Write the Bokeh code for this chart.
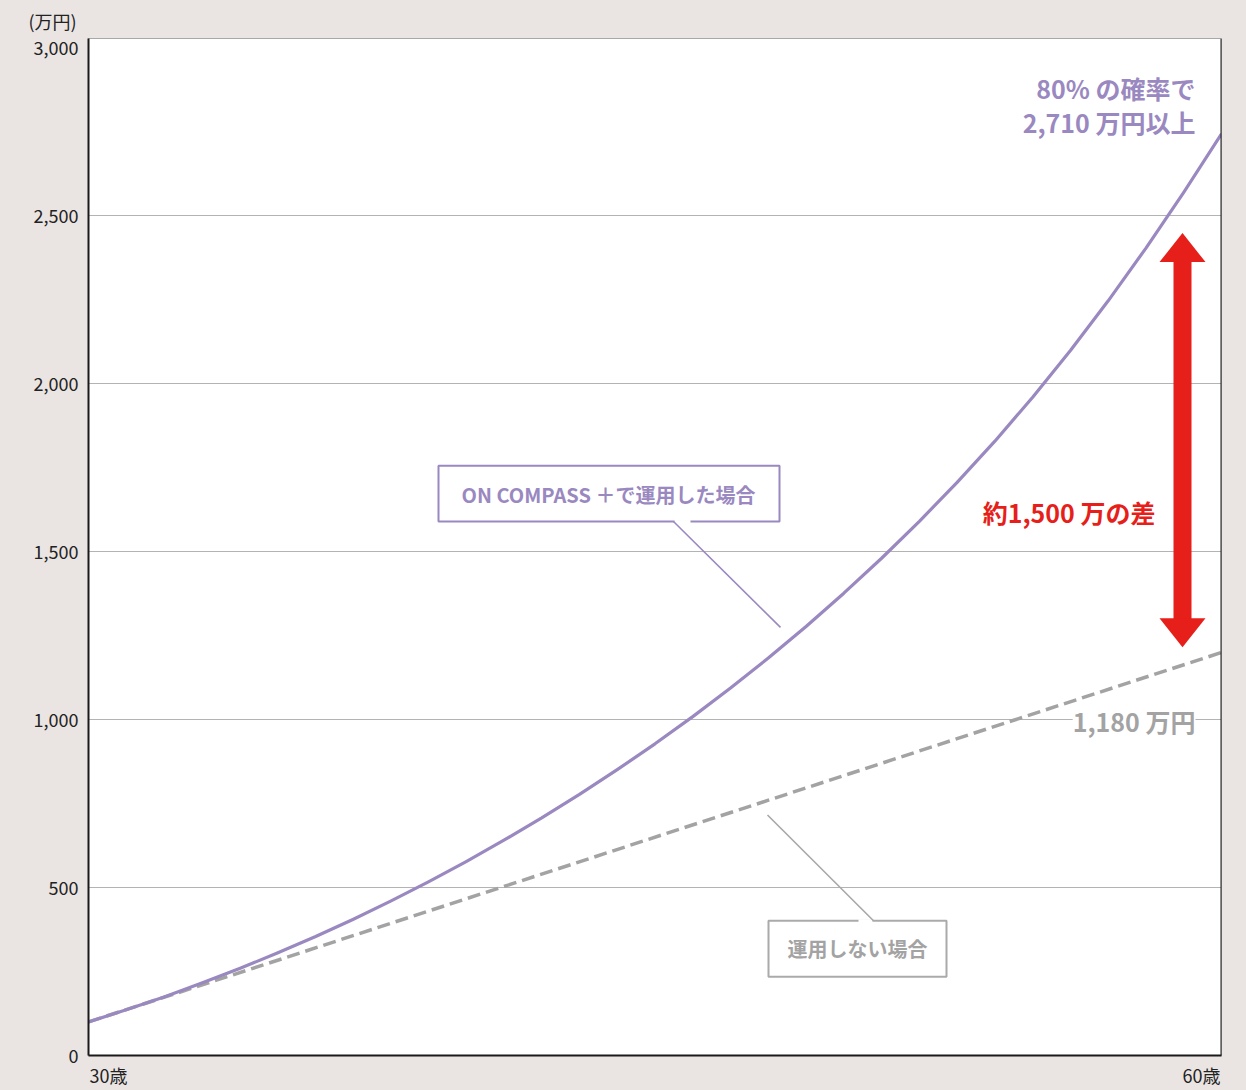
from bokeh.plotting import figure
from bokeh.models import (Range1d, FixedTicker, NumeralTickFormatter, Label, BoxAnnotation,
                          PolyAnnotation, Arrow, Span)
from bokeh.embed import file_html
from bokeh.resources import INLINE

# ---- data ----
ages = list(range(30, 61))
with_compass = [100, 136, 174.5, 215.5, 259, 305, 353.5, 405, 459.5, 517, 577.5, 641, 707.5,
                777.5, 851, 928, 1009, 1094, 1183.5, 1277.5, 1376.5, 1480.5, 1590.5, 1706.5,
                1829, 1960, 2099, 2247, 2404, 2570, 2744]
no_invest_ages = [30, 60]
no_invest = [100, 1200]
y_ticks = [0, 500, 1000, 1500, 2000, 2500, 3000]
grid_ticks = [500, 1000, 1500, 2000, 2500]
x_tick_labels = ["30歳", "60歳"]
unit_label = "(万円)"

FONT = "Noto Sans CJK JP"
BG = "#eae5e2"
PURPLE = "#9a88c0"
GREY = "#a3a3a3"
RED = "#e61f1a"

# page-pixel -> data helpers for annotation placement
FL, FR, FT, FB = 88, 1221, 38, 1057
Y_TOP = 3028
XS = (FR - FL) / 30.0
YS = (FB - FT) / Y_TOP
def X(px):
    return 30 + (px - FL) / XS
def Y(py):
    return (FB - py) / YS

p = figure(width=1246, height=1090, output_backend="svg", toolbar_location=None,
           x_range=Range1d(30, 60), y_range=Range1d(0, Y_TOP),
           min_border_left=FL, min_border_top=FT, min_border_right=1246 - FR,
           min_border_bottom=1090 - FB)

try:
    from bokeh.models import GlobalInlineStyleSheet
    p.stylesheets = [GlobalInlineStyleSheet(css="body{background:%s;}" % BG)]
except Exception:
    pass

p.border_fill_color = BG
p.background_fill_color = "white"
p.outline_line_color = "#a8a8a8"
p.outline_line_width = 1

# unit label as title
p.title.text = unit_label
p.title.align = "left"
p.title.offset = -60
p.title.standoff = 9
p.title.text_font = FONT
p.title.text_font_size = "18px"
p.title.text_font_style = "normal"
p.title.text_color = "#222222"

# x axis: bottom black line with age labels
xa = p.xaxis[0]
x_label_pos = [X(108), X(1201)]
xa.ticker = FixedTicker(ticks=x_label_pos)
xa.major_label_overrides = {x_label_pos[0]: x_tick_labels[0], x_label_pos[1]: x_tick_labels[1]}
xa.major_tick_line_color = None
xa.minor_tick_line_color = None
xa.axis_line_color = "#1a1a1a"
xa.axis_line_width = 2
xa.major_label_standoff = 0
xa.major_label_text_font = FONT
xa.major_label_text_font_size = "18px"
xa.major_label_text_color = "#222222"
p.xgrid.visible = False

ya = p.yaxis[0]
ya.ticker = FixedTicker(ticks=y_ticks)
ya.formatter = NumeralTickFormatter(format="0,0")
ya.major_tick_line_color = None
ya.minor_tick_line_color = None
ya.axis_line_color = "#1a1a1a"
ya.axis_line_width = 2
ya.major_label_standoff = 4
ya.major_label_text_font = FONT
ya.major_label_text_font_size = "18px"
ya.major_label_text_color = "#222222"

p.ygrid.ticker = FixedTicker(ticks=grid_ticks)
p.ygrid.grid_line_color = "#b3b3b3"
p.ygrid.grid_line_width = 1

# right frame border black
p.add_layout(Span(location=60, dimension="height", line_color="#1a1a1a", line_width=2))

# series
p.line(no_invest_ages, no_invest, line_color=GREY, line_width=3.5, line_dash="13 6")
p.line(ages, with_compass, line_color=PURPLE, line_width=3.2, line_join="round")

def lab(text, x, y, size, color, align="left", bold=False, **kw):
    l = Label(x=x, y=y, text=text, text_font=FONT, text_font_size=size, text_color=color,
              text_align=align, text_baseline="middle",
              text_font_style="bold" if bold else "normal", **kw)
    p.add_layout(l)
    return l

# callout boxes
p.add_layout(BoxAnnotation(left=X(438), right=X(779), top=Y(466), bottom=Y(522),
                           fill_color="white", fill_alpha=1, line_color=PURPLE,
                           line_alpha=1, line_width=2))
p.add_layout(Arrow(end=None, x_start=X(674), y_start=Y(522), x_end=X(690), y_end=Y(522),
                   line_color="white", line_width=3))
p.add_layout(Arrow(end=None, x_start=X(673), y_start=Y(522), x_end=X(780), y_end=Y(628),
                   line_color=PURPLE, line_width=1.6))
lab("ON COMPASS ＋で運用した場合", X(608), Y(495), "20px", PURPLE, align="center", bold=True)

p.add_layout(BoxAnnotation(left=X(768), right=X(946), top=Y(922), bottom=Y(978),
                           fill_color="white", fill_alpha=1, line_color="#aaaaaa",
                           line_alpha=1, line_width=2))
p.add_layout(Arrow(end=None, x_start=X(858), y_start=Y(922), x_end=X(872), y_end=Y(922),
                   line_color="white", line_width=3))
p.add_layout(Arrow(end=None, x_start=X(767), y_start=Y(816), x_end=X(873), y_end=Y(922),
                   line_color="#a8a8a8", line_width=1.6))
lab("運用しない場合", X(857), Y(950), "20px", GREY, align="center", bold=True)

# red double arrow
p.add_layout(BoxAnnotation(left=X(1173), right=X(1191), top=Y(260), bottom=Y(621),
                           fill_color=RED, fill_alpha=1, line_color=None))
p.add_layout(PolyAnnotation(xs=[X(1182), X(1205), X(1159)], ys=[Y(233), Y(262), Y(262)],
                            fill_color=RED, fill_alpha=1, line_color=None))
p.add_layout(PolyAnnotation(xs=[X(1182), X(1205), X(1159)], ys=[Y(648), Y(619), Y(619)],
                            fill_color=RED, fill_alpha=1, line_color=None))

# value labels
lab("80% の確率で", X(1195), Y(88), "25px", PURPLE, align="right", bold=True)
lab("2,710 万円以上", X(1195), Y(122), "25px", PURPLE, align="right", bold=True)
lab("約1,500 万の差", X(1155), Y(512), "25px", RED, align="right", bold=True)
lab("1,180 万円", X(1195), Y(722), "25px", GREY, align="right", bold=True,
    background_fill_color="white", background_fill_alpha=1)

open("out.html", "w").write(file_html(p, INLINE))
